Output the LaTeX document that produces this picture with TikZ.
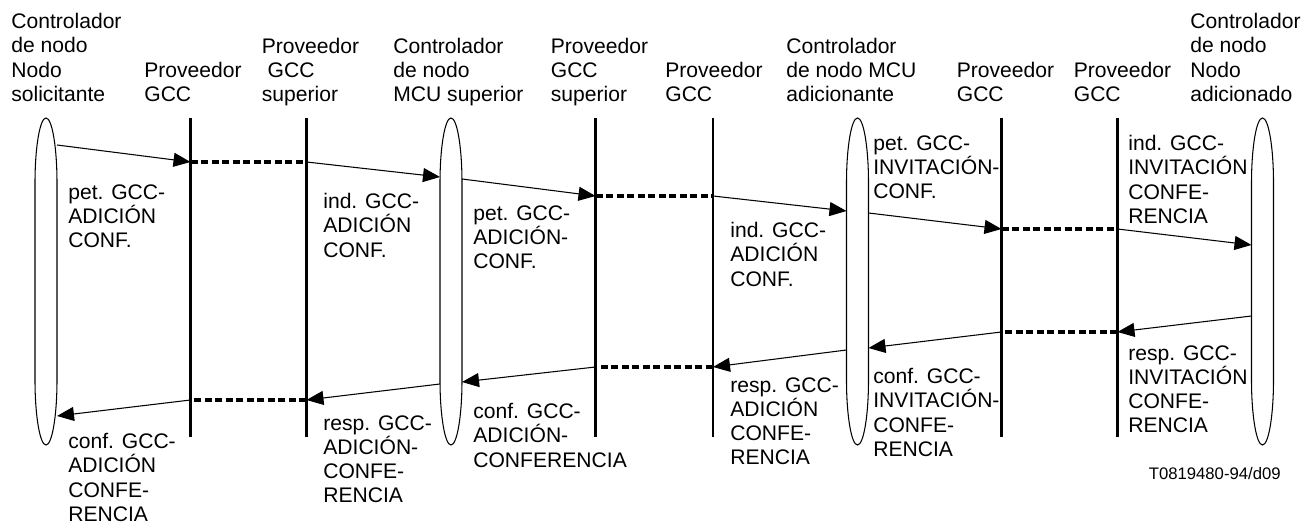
\documentclass[tikz,border=0pt]{standalone}
\usepackage{fontspec}
\setmainfont{Liberation Sans}
\usetikzlibrary{arrows.meta}

\tikzset{
    lifeline/.style={line width=1.3pt},
    bubble/.style={line width=0.6pt},
    msg/.style={line width=0.6pt, -{Triangle[length=0.34cm,width=0.28cm]}},
    relay/.style={line width=2.2pt, dash pattern=on 4pt off 2pt},
    hdr/.style={anchor=north west, align=left, inner sep=0pt, font=\fontsize{12}{13.8}\selectfont},
}

\begin{document}
\begin{tikzpicture}
    \useasboundingbox (0,0) rectangle (26.06,10.48);

    % Draw Node Controller Bubbles
    \foreach \x in {0.92, 9.02, 17.15, 25.25}
        \draw[bubble] (\x+0.22,6.82) arc[start angle=0, end angle=180, x radius=0.22, y radius=1.3]
            -- (\x-0.22,2.88) arc[start angle=180, end angle=360, x radius=0.22, y radius=1.3] -- cycle;

    % Draw Provider Lines
    \foreach \x in {3.81, 6.13, 11.91, 14.26, 20.03, 22.35}
        \draw[lifeline] (\x,8.12) -- (\x,1.74);

    % Headers
    \node[hdr] (hSol) at (0.22,10.22) {Controlador\\de nodo\\Nodo\\solicitante};
    \node[hdr] (hP1) at (2.88,9.24) {Proveedor\\GCC};
    \node[hdr] (hP2) at (5.23,9.73) {Proveedor\\~GCC\\superior};
    \node[hdr] (hSup) at (7.86,9.73) {Controlador\\de nodo\\MCU superior};
    \node[hdr] (hP3) at (11.01,9.73) {Proveedor\\GCC\\superior};
    \node[hdr] (hP4) at (13.30,9.24) {Proveedor\\GCC};
    \node[hdr] (hAdi) at (15.72,9.73) {Controlador\\de nodo MCU\\adicionante};
    \node[hdr] (hP5) at (19.13,9.24) {Proveedor\\GCC};
    \node[hdr] (hP6) at (21.47,9.24) {Proveedor\\GCC};
    \node[hdr] (hAdo) at (23.80,10.22) {Controlador\\de nodo\\Nodo\\adicionado};

    % Message Points
    % -- forward
    \coordinate (f0) at (1.14,7.58);
    \coordinate (f1) at (3.81,7.24);
    \coordinate (f2) at (6.13,7.24);
    \coordinate (f3) at (8.80,6.94);
    \coordinate (f4) at (9.24,6.90);
    \coordinate (f5) at (11.91,6.56);
    \coordinate (f6) at (14.26,6.56);
    \coordinate (f7) at (16.93,6.26);
    \coordinate (f8) at (17.37,6.22);
    \coordinate (f9) at (20.03,5.90);
    \coordinate (f10) at (22.35,5.90);
    \coordinate (f11) at (25.03,5.58);
    % -- backward
    \coordinate (r0) at (25.03,4.16);
    \coordinate (r1) at (22.35,3.84);
    \coordinate (r2) at (20.03,3.84);
    \coordinate (r3) at (17.37,3.52);
    \coordinate (r4) at (16.93,3.48);
    \coordinate (r5) at (14.26,3.14);
    \coordinate (r6) at (11.91,3.14);
    \coordinate (r7) at (9.24,2.84);
    \coordinate (r8) at (8.80,2.80);
    \coordinate (r9) at (6.13,2.48);
    \coordinate (r10) at (3.81,2.48);
    \coordinate (r11) at (1.14,2.16);

    % Draw Messages
    \draw[msg] (f0) -- (f1);
    \draw[relay] (f1) -- (f2);
    \draw[msg] (f2) -- (f3);
    \draw[msg] (f4) -- (f5);
    \draw[relay] (f5) -- (f6);
    \draw[msg] (f6) -- (f7);
    \draw[msg] (f8) -- (f9);
    \draw[relay] (f9) -- (f10);
    \draw[msg] (f10) -- (f11);

    \draw[msg] (r0) -- (r1);
    \draw[relay] (r1) -- (r2);
    \draw[msg] (r2) -- (r3);
    \draw[msg] (r4) -- (r5);
    \draw[relay] (r5) -- (r6);
    \draw[msg] (r6) -- (r7);
    \draw[msg] (r8) -- (r9);
    \draw[relay] (r9) -- (r10);
    \draw[msg] (r10) -- (r11);

    % Message Labels
    % -- forward
    \node[hdr] (petSol) at (1.36,6.80) {pet. GCC-\\ADICIÓN\\CONF.};
    \node[hdr] (indSup) at (6.46,6.62) {ind. GCC-\\ADICIÓN\\CONF.};
    \node[hdr] (petSup) at (9.46,6.38) {pet. GCC-\\ADICIÓN-\\CONF.};
    \node[hdr] (indAdi) at (14.60,6.04) {ind. GCC-\\ADICIÓN\\CONF.};
    \node[hdr] (petInv) at (17.46,7.78) {pet. GCC-\\INVITACIÓN-\\CONF.};
    \node[hdr] (indInv) at (22.56,7.78) {ind. GCC-\\INVITACIÓN\\CONFE-\\RENCIA};
    % -- backward
    \node[hdr] (respInv) at (22.56,3.58) {resp. GCC-\\INVITACIÓN\\CONFE-\\RENCIA};
    \node[hdr] (confInv) at (17.46,3.12) {conf. GCC-\\INVITACIÓN-\\CONFE-\\RENCIA};
    \node[hdr] (respAdi) at (14.60,2.94) {resp. GCC-\\ADICIÓN\\CONFE-\\RENCIA};
    \node[hdr] (confSup) at (9.46,2.42) {conf. GCC-\\ADICIÓN-\\CONFERENCIA};
    \node[hdr] (respSup) at (6.46,2.18) {resp. GCC-\\ADICIÓN-\\CONFE-\\RENCIA};
    \node[hdr] (confSol) at (1.36,1.82) {conf. GCC-\\ADICIÓN\\CONFE-\\RENCIA};

    % Figure Code
    \node[anchor=base east, inner sep=0pt, font=\fontsize{9.5}{11}\selectfont] (code) at (25.62,0.88) {T0819480-94/d09};
\end{tikzpicture}
\end{document}
